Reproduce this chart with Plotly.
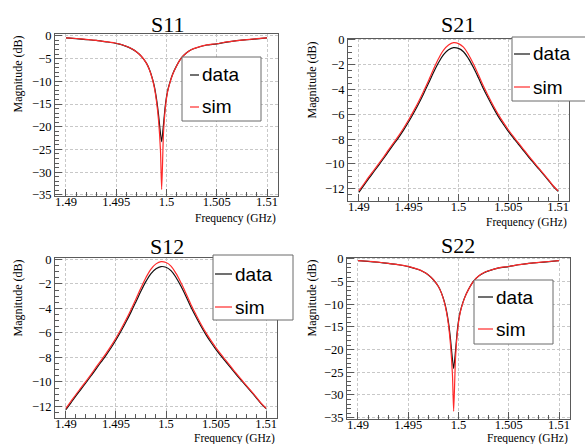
import plotly.graph_objects as go

# ---------------- data ----------------
freq_t = [1.4900, 1.4905, 1.4910, 1.4915, 1.4920, 1.4925, 1.4930, 1.4935, 1.4940, 1.4945,
          1.4950, 1.4955, 1.4960, 1.4965, 1.4970, 1.4975, 1.4980, 1.4985, 1.4990, 1.4995,
          1.5000, 1.5005, 1.5010, 1.5015, 1.5020, 1.5025, 1.5030, 1.5035, 1.5040, 1.5045,
          1.5050, 1.5055, 1.5060, 1.5065, 1.5070, 1.5075, 1.5080, 1.5085, 1.5090, 1.5095, 1.5100]

s21_data = [-12.29, -11.73, -11.17, -10.63, -10.09, -9.54, -8.97, -8.41, -7.85, -7.25,
            -6.60, -5.89, -5.14, -4.33, -3.48, -2.61, -1.82, -1.18, -0.79, -0.62,
            -0.68, -0.95, -1.50, -2.22, -3.05, -3.93, -4.72, -5.48, -6.18, -6.80,
            -7.38, -7.90, -8.40, -8.90, -9.40, -9.88, -10.35, -10.82, -11.30, -11.80, -12.20]
s21_sim = [-12.18, -11.62, -11.05, -10.51, -9.97, -9.42, -8.84, -8.28, -7.71, -7.10,
           -6.44, -5.72, -4.96, -4.13, -3.26, -2.35, -1.50, -0.82, -0.40, -0.22,
           -0.29, -0.58, -1.17, -1.94, -2.81, -3.72, -4.53, -5.31, -6.02, -6.65,
           -7.24, -7.78, -8.29, -8.80, -9.31, -9.80, -10.28, -10.76, -11.25, -11.76, -12.17]

s12_data = [-12.27, -11.71, -11.15, -10.61, -10.07, -9.52, -8.95, -8.39, -7.83, -7.23,
            -6.58, -5.87, -5.11, -4.30, -3.45, -2.58, -1.79, -1.15, -0.76, -0.58,
            -0.64, -0.91, -1.47, -2.19, -3.02, -3.90, -4.70, -5.46, -6.16, -6.78,
            -7.36, -7.88, -8.38, -8.88, -9.38, -9.86, -10.33, -10.80, -11.28, -11.78, -12.18]
s12_sim = [-12.16, -11.60, -11.03, -10.49, -9.95, -9.40, -8.82, -8.26, -7.69, -7.08,
           -6.42, -5.70, -4.93, -4.10, -3.23, -2.32, -1.47, -0.78, -0.36, -0.18,
           -0.25, -0.54, -1.14, -1.91, -2.78, -3.69, -4.51, -5.29, -6.00, -6.63,
           -7.22, -7.76, -8.27, -8.78, -9.29, -9.78, -10.26, -10.74, -11.23, -11.74, -12.15]

freq_r = [1.4900, 1.4910, 1.4920, 1.4930, 1.4940, 1.4950, 1.4960, 1.4965, 1.4970, 1.4975,
          1.4980, 1.4983, 1.4986, 1.4988, 1.4990, 1.4992, 1.4994, 1.49952, 1.4997, 1.4999,
          1.5001, 1.5003, 1.5006, 1.5010, 1.5015, 1.5020, 1.5025, 1.5030, 1.5040, 1.5050,
          1.5060, 1.5070, 1.5080, 1.5090, 1.5100]

s11_data = [-0.45, -0.60, -0.80, -1.00, -1.30, -1.65, -2.30, -2.80, -3.50, -4.50,
            -6.00, -7.40, -9.40, -11.20, -13.80, -17.20, -21.50, -23.30, -19.50, -15.00,
            -12.20, -10.50, -8.50, -6.60, -4.80, -3.70, -3.00, -2.60, -2.00, -1.75,
            -1.35, -1.05, -0.85, -0.65, -0.45]
s11_sim = [-0.42, -0.57, -0.77, -0.97, -1.27, -1.62, -2.27, -2.77, -3.48, -4.48,
           -6.00, -7.45, -9.55, -11.50, -14.30, -18.40, -25.20, -33.80, -21.40, -15.60,
           -12.40, -10.60, -8.55, -6.62, -4.80, -3.70, -2.98, -2.58, -1.98, -1.72,
           -1.32, -1.02, -0.82, -0.62, -0.42]

s22_data = [-0.40, -0.55, -0.75, -1.00, -1.30, -1.70, -2.35, -2.85, -3.55, -4.60,
            -6.10, -7.50, -9.50, -11.40, -14.00, -17.60, -22.20, -24.20, -20.40, -15.40,
            -12.40, -10.60, -8.60, -6.70, -4.90, -3.80, -3.10, -2.65, -2.00, -1.70,
            -1.30, -1.00, -0.80, -0.60, -0.40]
s22_sim = [-0.38, -0.53, -0.73, -0.98, -1.28, -1.67, -2.33, -2.83, -3.53, -4.58,
           -6.10, -7.55, -9.65, -11.70, -14.50, -18.80, -25.60, -33.60, -22.00, -16.00,
           -12.60, -10.70, -8.65, -6.72, -4.90, -3.78, -3.08, -2.63, -1.98, -1.68,
           -1.28, -0.98, -0.78, -0.58, -0.38]

series_names = ["data", "sim"]

W, H = 585, 444
SERIF = "Liberation Serif, Times New Roman, serif"
SANS = "Liberation Sans, Arial, Helvetica, sans-serif"
FRAME = "#5a5a5a"

# panel frames in pixels: (x0, x1, ytop, ybottom)
panels = [
    dict(name="S11", f=freq_r, d=s11_data, s=s11_sim, frame=(55, 278, 34, 196),
         yr=[-35.25, 0.42], dt=5, mdt=1, smooth=0.6,
         box=(182, 261, 57, 121), rows=(75, 107), dash=(190, 199),
         title=(167, 25), ytitle=(17, 34), xtitle=(278, 218)),
    dict(name="S21", f=freq_t, d=s21_data, s=s21_sim, frame=(348, 569, 38.5, 200.5),
         yr=[-12.95, 0.12], dt=2, mdt=0.5, smooth=1.0,
         box=(512, 592, 37, 101), rows=(54, 87), dash=(514, 530),
         title=(458, 25), ytitle=(312, 40), xtitle=(569, 222)),
    dict(name="S12", f=freq_t, d=s12_data, s=s12_sim, frame=(55, 277, 258, 418),
         yr=[-12.95, 0.12], dt=2, mdt=0.5, smooth=1.0,
         box=(213, 293, 255, 320), rows=(274, 307), dash=(215, 232),
         title=(167, 246), ytitle=(17, 258), xtitle=(277, 438)),
    dict(name="S22", f=freq_r, d=s22_data, s=s22_sim, frame=(347, 570, 257.5, 419),
         yr=[-35.3, 0.3], dt=5, mdt=1, smooth=0.6,
         box=(474, 553, 280, 344), rows=(297, 329), dash=(478, 493),
         title=(458, 245), ytitle=(311, 258), xtitle=(570, 438)),
]
colors = ["#111111", "#ff2a2a"]

fig = go.Figure()
annotations = []
shapes = []
layout = dict(width=W, height=H, margin=dict(l=0, r=0, t=0, b=0, autoexpand=False),
              paper_bgcolor="white", plot_bgcolor="white", showlegend=False)


def px(x):
    return x / W


def py(y):
    return 1 - y / H


for i, p in enumerate(panels):
    k = i + 1
    xa = "x" if k == 1 else f"x{k}"
    ya = "y" if k == 1 else f"y{k}"
    x0, x1, yt, yb = p["frame"]
    axis_common = dict(showline=True, linecolor=FRAME, linewidth=1, mirror=True,
                       ticks="inside", tickcolor=FRAME, ticklen=7, tickwidth=1,
                       showgrid=True, gridcolor="#c8c8c8", gridwidth=1, griddash="3px,2px",
                       zeroline=False, tickfont=dict(family=SERIF, size=12.5, color="black"))
    layout["xaxis" if k == 1 else f"xaxis{k}"] = dict(
        axis_common, domain=[px(x0), px(x1)], range=[1.48891, 1.51109],
        anchor=ya, tickmode="linear", tick0=1.49, dtick=0.005, ticklabelstandoff=-6,
        minor=dict(ticks="inside", ticklen=4, tickcolor=FRAME, dtick=0.001, showgrid=False),
    )
    layout["yaxis" if k == 1 else f"yaxis{k}"] = dict(
        axis_common, domain=[py(yb), py(yt)], range=p["yr"],
        anchor=xa, tickmode="linear", tick0=0, dtick=p["dt"],
        minor=dict(ticks="inside", ticklen=4, tickcolor=FRAME, dtick=p["mdt"], showgrid=False),
    )
    for name, yv, col in zip(series_names, [p["d"], p["s"]], colors):
        fig.add_trace(go.Scatter(x=p["f"], y=yv, mode="lines", name=name,
                                 line=dict(color=col, width=1.2, shape="spline",
                                           smoothing=p["smooth"]),
                                 xaxis=xa, yaxis=ya))

    # ROOT-style legend box
    bx0, bx1, by0, by1 = p["box"]
    shapes.append(dict(type="rect", xref="paper", yref="paper",
                       x0=px(bx0), x1=px(bx1), y0=py(by1), y1=py(by0),
                       line=dict(color="#6a6a6a", width=1), fillcolor="white", layer="above"))
    d0, d1 = p["dash"]
    for name, col, ry in zip(series_names, colors, p["rows"]):
        shapes.append(dict(type="line", xref="paper", yref="paper",
                           x0=px(d0), x1=px(d1), y0=py(ry), y1=py(ry),
                           line=dict(color=col, width=1.2), layer="above"))
        annotations.append(dict(text=name, x=px(d1 + 1), y=py(ry), xref="paper", yref="paper",
                                xanchor="left", yanchor="middle", showarrow=False,
                                font=dict(family=SANS, size=19, color="black")))

    tx, ty = p["title"]
    annotations.append(dict(text=p["name"], x=px(tx), y=py(ty), xref="paper", yref="paper",
                            xanchor="center", yanchor="middle", showarrow=False,
                            font=dict(family=SERIF, size=22, color="black")))
    yx, yy = p["ytitle"]
    annotations.append(dict(text="Magnitude (dB)", x=px(yx), y=py(yy), xref="paper", yref="paper",
                            xanchor="center", yanchor="top", textangle=-90, showarrow=False,
                            font=dict(family=SERIF, size=12, color="black")))
    fx, fy = p["xtitle"]
    annotations.append(dict(text="Frequency (GHz)", x=px(fx), y=py(fy), xref="paper", yref="paper",
                            xanchor="right", yanchor="middle", showarrow=False,
                            font=dict(family=SERIF, size=11.5, color="black")))

layout["annotations"] = annotations
layout["shapes"] = shapes
fig.update_layout(**layout)
fig.write_html("out.html", config={"displayModeBar": False},
               post_script="document.body.style.margin='0';document.body.style.overflow='hidden';")
